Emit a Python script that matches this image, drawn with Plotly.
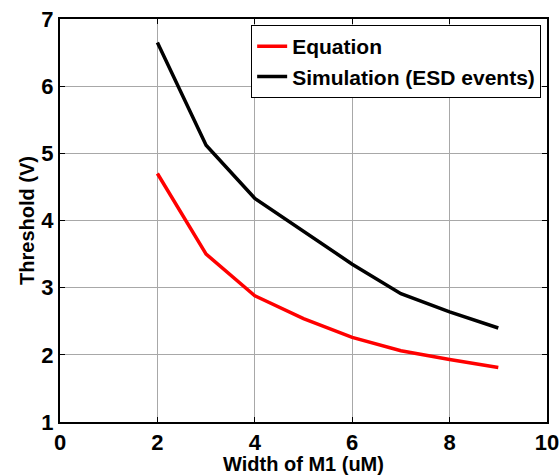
import plotly.graph_objects as go

# Width of transistor M1 (uM)
width_m1 = [2, 3, 4, 5, 6, 7, 8, 9]
# Trigger threshold (V) from the analytical equation
threshold_equation = [4.70, 3.50, 2.88, 2.54, 2.26, 2.06, 1.93, 1.81]
# Trigger threshold (V) from ESD event simulation
threshold_simulation = [6.65, 5.12, 4.33, 3.84, 3.35, 2.91, 2.64, 2.40]

x_ticks = [0, 2, 4, 6, 8, 10]
y_ticks = [1, 2, 3, 4, 5, 6, 7]

FONT = "Liberation Sans, Arial, sans-serif"

fig = go.Figure()
fig.add_trace(go.Scatter(
    x=width_m1, y=threshold_equation, mode="lines", name="Equation",
    line=dict(color="#ff0000", width=3.5),
))
fig.add_trace(go.Scatter(
    x=width_m1, y=threshold_simulation, mode="lines", name="Simulation (ESD events)",
    line=dict(color="#000000", width=3.5),
))

axis_common = dict(
    showline=True, linecolor="black", linewidth=2, mirror="ticks",
    ticks="inside", ticklen=5, tickwidth=1, tickcolor="black",
    showgrid=True, gridcolor="#a8a8a8", gridwidth=1,
    zeroline=False, automargin=False, ticklabeloverflow="allow",
    tickfont=dict(family=FONT, size=22, color="black", weight="bold"),
)

fig.update_xaxes(
    range=[0, 10], tickvals=x_ticks, ticktext=[str(v) for v in x_ticks],
    title=dict(text="Width of M1 (uM)", standoff=3,
               font=dict(family=FONT, size=20, color="black", weight="bold")),
    **axis_common,
)
fig.update_yaxes(
    range=[1, 7], tickvals=y_ticks, ticktext=[str(v) for v in y_ticks],
    title=dict(text="Threshold (V)", standoff=1,
               font=dict(family=FONT, size=20, color="black", weight="bold")),
    **axis_common,
)

fig.update_layout(
    width=559, height=475,
    margin=dict(l=60, r=12, t=19, b=53),
    paper_bgcolor="white", plot_bgcolor="white",
    showlegend=True,
    legend=dict(
        x=0.988, y=0.985, xanchor="right", yanchor="top",
        bgcolor="white", bordercolor="black", borderwidth=1,
        font=dict(family=FONT, size=21, color="black", weight="bold"),
        tracegroupgap=0, itemwidth=30,
    ),
)

fig.write_html("out.html")
